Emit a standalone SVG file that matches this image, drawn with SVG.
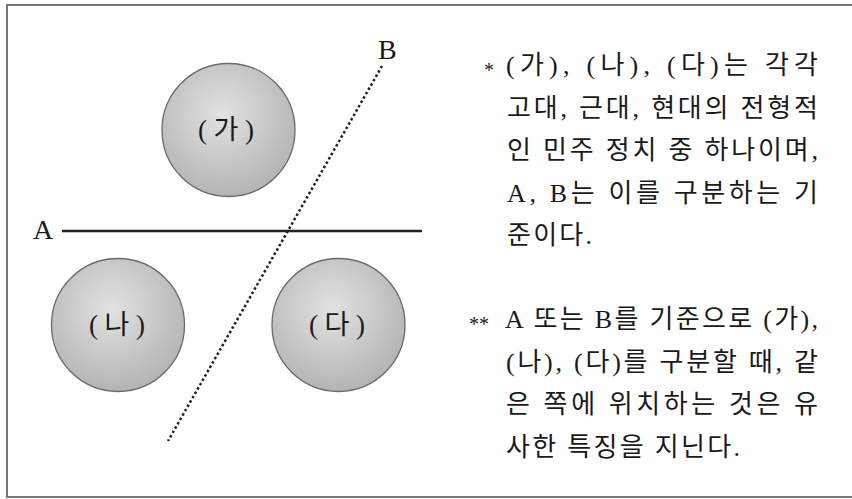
<svg xmlns="http://www.w3.org/2000/svg" width="852" height="499" viewBox="0 0 852 499">
  <defs>
    <radialGradient id="ball" cx="0.45" cy="0.38" r="0.65">
      <stop offset="0" stop-color="#e2e2e2"/>
      <stop offset="1" stop-color="#b2b2b2"/>
    </radialGradient>
    <style>
      .ball { fill: url(#ball); stroke: #6a6a6a; stroke-width: 1.3; }
      .t { font-family: "Liberation Serif", "Noto Sans CJK KR", serif; fill: #1a1a1a; }
      .lbl { font-size: 27px; text-anchor: middle; }
      .big { font-size: 28px; }
      .p { font-size: 26px; }
      .star { font-size: 20px; }
    </style>
  </defs>
  <rect x="0" y="0" width="852" height="499" fill="#ffffff"/>
  <rect x="7" y="5" width="852" height="492" fill="none" stroke="#777777" stroke-width="2"/>

  <g id="connectors">
    <line id="lineA" x1="62" y1="231" x2="422" y2="231" stroke="#222222" stroke-width="2.5"/>
    <line id="lineB" x1="382" y1="66" x2="168" y2="441" stroke="#222222" stroke-width="2.5" stroke-dasharray="2.5 2.5"/>
    <text class="t big" x="33" y="239">A</text>
    <text class="t big" x="378" y="59">B</text>
  </g>

  <g id="node-ga">
    <circle class="ball" cx="228.5" cy="130" r="66.5"/>
    <text class="t lbl" x="226" y="139" textLength="56" lengthAdjust="spacing">(가)</text>
  </g>
  <g id="node-na">
    <circle class="ball" cx="118" cy="325" r="66.5"/>
    <text class="t lbl" x="117" y="334" textLength="56" lengthAdjust="spacing">(나)</text>
  </g>
  <g id="node-da">
    <circle class="ball" cx="338.5" cy="325" r="66.5"/>
    <text class="t lbl" x="337" y="334" textLength="56" lengthAdjust="spacing">(다)</text>
  </g>

  <g id="note">
    <text class="t star" x="484" y="77">*</text>
    <text class="t p" x="506" y="74" textLength="312" lengthAdjust="spacing">(가), (나), (다)는 각각</text>
    <text class="t p" x="507" y="116.5" textLength="311" lengthAdjust="spacing">고대, 근대, 현대의 전형적</text>
    <text class="t p" x="507" y="159" textLength="311" lengthAdjust="spacing">인 민주 정치 중 하나이며,</text>
    <text class="t p" x="507" y="201.5" textLength="311" lengthAdjust="spacing">A, B는 이를 구분하는 기</text>
    <text class="t p" x="507" y="244" textLength="85" lengthAdjust="spacing">준이다.</text>

    <text class="t star" x="469" y="331">**</text>
    <text class="t p" x="505" y="328" textLength="313" lengthAdjust="spacing">A 또는 B를 기준으로 (가),</text>
    <text class="t p" x="506" y="370.5" textLength="312" lengthAdjust="spacing">(나), (다)를 구분할 때, 같</text>
    <text class="t p" x="506" y="413" textLength="312" lengthAdjust="spacing">은 쪽에 위치하는 것은 유</text>
    <text class="t p" x="506" y="455.5" textLength="234" lengthAdjust="spacing">사한 특징을 지닌다.</text>
  </g>
</svg>
